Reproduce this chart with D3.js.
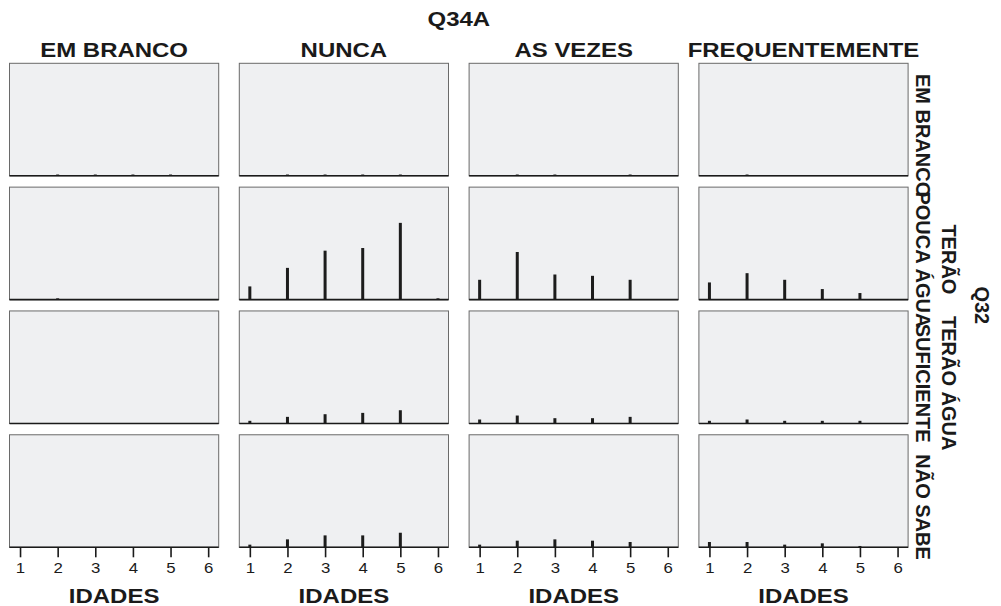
<!DOCTYPE html>
<html>
<head>
<meta charset="utf-8">
<script src="https://cdn.jsdelivr.net/npm/d3@7"></script>
<style>
    body { margin: 0; background: #ffffff; }
    text { font-family: "Liberation Sans", Arial, sans-serif; fill: #1a1a1a; }
</style>
</head>
<body>
<svg id="chart" width="1001" height="606"></svg>
<script>
// Q34A (columns) x Q32 (rows), counts by IDADES 1..6
var ages = [1, 2, 3, 4, 5, 6];
var q34a = ["EM BRANCO", "NUNCA", "AS VEZES", "FREQUENTEMENTE"];
var q32 = ["EM BRANCO", "TERÃO POUCA ÁGUA", "TERÃO ÁGUA SUFICIENTE", "NÃO SABE"];
var q32Lines = [["EM BRANCO"], ["TERÃO", "POUCA ÁGUA"], ["TERÃO ÁGUA", "SUFICIENTE"], ["NÃO SABE"]];

// one array per Q32 row, one list per Q34A column
var rowEmBranco = [[0, 1, 1, 1, 1, 0], [0, 1, 1, 1, 1, 0], [0, 1, 1, 0, 1, 0], [0, 1, 0, 0, 0, 0]];
var rowPoucaAgua = [[0, 1, 0, 0, 0, 0], [10, 24, 37, 39, 58, 1], [15, 36, 19, 18, 15, 0], [13, 20, 15, 8, 5, 0]];
var rowSuficiente = [[0, 0, 0, 0, 0, 0], [2, 5, 7, 8, 10, 0], [3, 6, 4, 4, 5, 0], [2, 3, 2, 2, 2, 0]];
var rowNaoSabe = [[0, 0, 0, 0, 0, 0], [2, 6, 9, 9, 11, 0], [2, 5, 6, 5, 4, 0], [4, 4, 2, 3, 1, 0]];
var counts = [rowEmBranco, rowPoucaAgua, rowSuficiente, rowNaoSabe];
var yMax = 85;

var svg = d3.select('#chart');
var stretch = 1.23;

var colBand = d3.scaleBand().domain(q34a).range([9.5, 908.1]).paddingInner(20.6 / 229.8);
var rowBand = d3.scaleBand().domain(q32).range([63.3, 547.3]).paddingInner(11.3 / 123.8);
var pw = colBand.bandwidth(), ph = rowBand.bandwidth();

var x = d3.scaleLinear().domain([0.72, 6.28]).range([0, pw]);
var y = d3.scaleLinear().domain([0, yMax]).range([ph, 0]);

function wideText(g, tx, ty, str, size) {
    return g.append('text')
        .attr('transform', 'translate(' + tx + ',' + ty + ') scale(' + stretch + ',1)')
        .attr('text-anchor', 'middle')
        .attr('font-size', size + 'px')
        .attr('font-weight', 'bold')
        .text(str);
}

// titles
wideText(svg, (colBand.range()[0] + colBand.range()[1]) / 2, 26, 'Q34A', 19.5);
q34a.forEach(function(c) {
    wideText(svg, colBand(c) + pw / 2, 57, c, 19.5);
    wideText(svg, colBand(c) + pw / 2, 602.5, 'IDADES', 19.5);
});

q32.forEach(function(r, ri) {
    q34a.forEach(function(c, ci) {
        var g = svg.append('g')
            .attr('transform', 'translate(' + colBand(c) + ',' + rowBand(r) + ')');
        g.append('rect')
            .attr('width', pw).attr('height', ph)
            .attr('fill', '#eff0f2')
            .attr('stroke', '#6a6a6a').attr('stroke-width', 1);

        g.selectAll('.bar').data(counts[ri][ci]).enter()
            .append('rect')
            .attr('class', 'bar')
            .attr('x', function(d, i) { return x(ages[i]) - 1.5; })
            .attr('y', function(d) { return y(d); })
            .attr('width', 3)
            .attr('height', function(d) { return ph - y(d); })
            .attr('fill', '#1c1c1c');

        g.append('line')
            .attr('x1', 0).attr('x2', pw)
            .attr('y1', ph).attr('y2', ph)
            .attr('stroke', '#1a1a1a').attr('stroke-width', 1.6);

        if (ri === q32.length - 1) {
            var ax = g.append('g')
                .attr('transform', 'translate(0,' + ph + ')')
                .call(d3.axisBottom(x).tickValues(ages).tickSize(10).tickPadding(6).tickFormat(d3.format('d')));
            ax.select('.domain').remove();
            ax.selectAll('line').attr('stroke', '#1a1a1a').attr('stroke-width', 1.6);
            ax.selectAll('text')
                .attr('font-size', '14px')
                .attr('fill', '#1a1a1a')
                .attr('font-family', '"Liberation Sans", Arial, sans-serif')
                .attr('transform', 'scale(1.2,1)');
        }
    });

    // right strip labels, rotated, first line outermost
    var cy = rowBand(r) + ph / 2 + 16;
    var lines = q32Lines[ri];
    lines.forEach(function(l, li) {
        var bx = lines.length === 1 ? 915.5 : (li === 0 ? 941.5 : 915.5);
        svg.append('text')
            .attr('transform', 'translate(' + bx + ',' + cy + ') rotate(90)')
            .attr('text-anchor', 'middle')
            .attr('font-size', '20px')
            .attr('font-weight', 'bold')
            .text(l);
    });
});

svg.append('text')
    .attr('transform', 'translate(975,' + (rowBand.range()[0] + rowBand.range()[1]) / 2 + ') rotate(90)')
    .attr('text-anchor', 'middle')
    .attr('font-size', '20px')
    .attr('font-weight', 'bold')
    .text('Q32');
</script>
</body>
</html>
